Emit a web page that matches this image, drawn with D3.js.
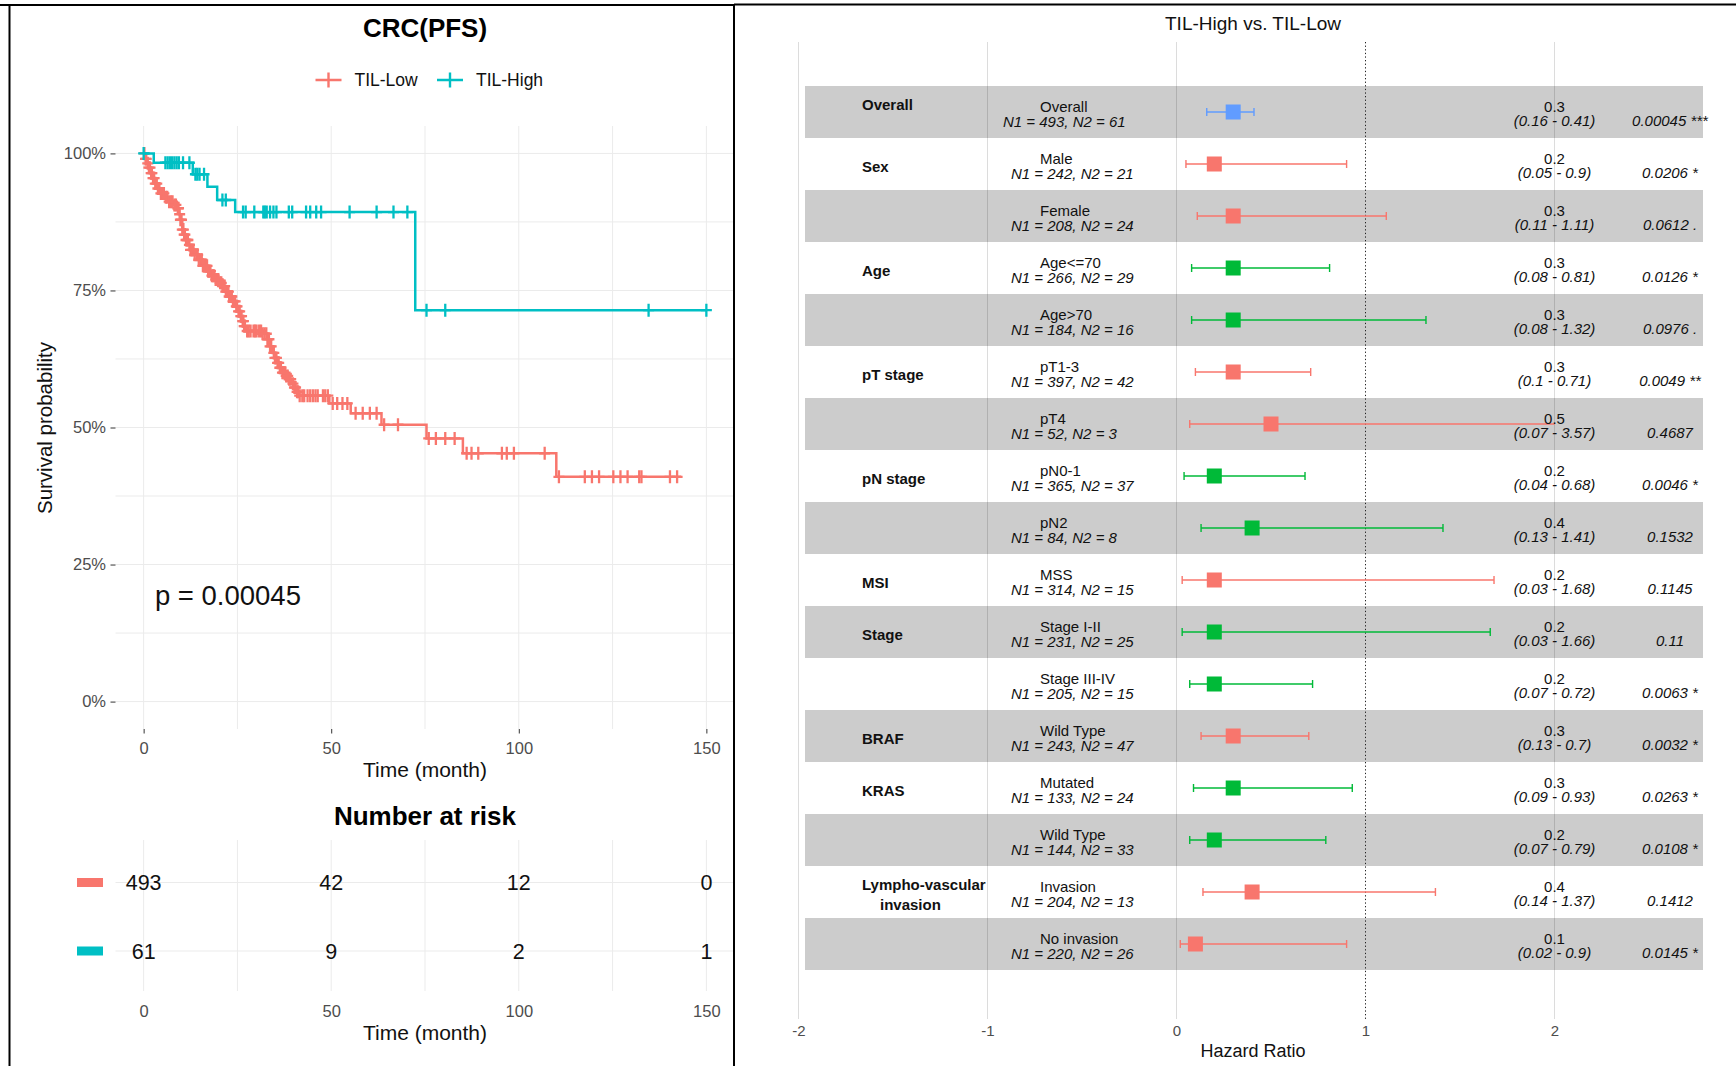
<!DOCTYPE html>
<html>
<head>
<meta charset="utf-8">
<script src="https://cdn.jsdelivr.net/npm/d3@7"></script>
<style>
  body { margin: 0; background: #fff; }
  svg { display: block; }
</style>
</head>
<body>
<script>
// ---------- Kaplan-Meier ----------
const groups = ["TIL-Low", "TIL-High"];
const groupColors = ["#F8766D", "#00BFC4"];

// step changes: time (month) -> survival after the drop
const lowTimes = [0, 0.4, 0.9, 1.4, 1.9, 2.5, 3.1, 3.8, 4.5, 5.5, 6.7, 7.8, 8.9, 9.4, 9.8,
  10.3, 10.8, 11.2, 11.9, 12.5, 13.6, 14.7, 15.8, 17.0, 18.1, 19.2, 20.1, 21.0, 21.9, 22.8,
  23.7, 24.6, 25.3, 25.9, 26.4, 26.8, 27.2, 31.7, 33.0, 33.7, 34.4, 35.0, 35.7, 36.3, 37.0,
  38.0, 38.8, 39.5, 40.2, 40.9, 41.5, 49.5, 55.2, 63.4, 75.4, 85.1, 110.0];
const lowSurv = [1, 0.990, 0.982, 0.974, 0.964, 0.955, 0.945, 0.936, 0.927, 0.920, 0.912, 0.906, 0.900, 0.889, 0.879,
  0.861, 0.852, 0.842, 0.833, 0.824, 0.815, 0.806, 0.795, 0.785, 0.777, 0.770, 0.764, 0.758, 0.748, 0.739,
  0.730, 0.721, 0.712, 0.703, 0.694, 0.685, 0.676, 0.671, 0.661, 0.648, 0.636, 0.627, 0.618, 0.609, 0.600,
  0.594, 0.588, 0.580, 0.573, 0.565, 0.558, 0.544, 0.526, 0.505, 0.480, 0.453, 0.410];
const lowEnd = 143.3;
const lowCensor = [0.2, 0.5, 0.7, 1.1, 1.4, 1.7, 2.0, 2.2, 2.5, 2.8, 3.1, 3.5, 3.8, 4.2, 4.6, 5.0,
  5.4, 5.9, 6.3, 6.8, 7.3, 7.7, 8.2, 8.6, 9.1, 9.3, 9.6, 9.8, 10.1, 10.3, 10.6, 10.8, 11.0, 11.3,
  11.6, 11.8, 12.2, 12.5, 12.9, 13.3, 13.6, 14.1, 14.4, 14.7, 15.2, 15.5, 15.8, 16.2, 16.6, 16.9,
  17.2, 17.5, 17.8, 18.2, 18.5, 18.8, 19.2, 19.6, 19.9, 20.4, 20.7, 21.0, 21.3, 21.6, 21.9, 22.3,
  22.6, 22.8, 23.2, 23.5, 23.8, 24.1, 24.4, 24.7, 24.9, 25.3, 25.6, 25.9, 26.1, 26.4, 26.6, 26.8,
  27.0, 27.6, 28.0, 28.5, 29.3, 29.7, 30.1, 30.8, 31.3, 31.7, 32.2, 32.7, 33.0, 33.4, 33.7, 34.0,
  34.7, 35.0, 35.4, 35.7, 36.0, 36.3, 36.6, 37.0, 37.3, 37.7, 38.0, 38.4, 38.8, 39.2, 39.8, 40.2,
  40.5, 40.9, 41.2, 41.6, 42.3, 42.8, 43.7, 44.4, 45.1, 45.8, 46.4, 47.8, 48.4, 49.1, 50.4, 51.6,
  53.0, 54.3, 56.5, 58.4, 60.3, 62.1, 64.1, 67.8, 76.0, 77.9, 80.4, 82.9, 86.1, 87.4, 89.2, 95.5,
  96.8, 98.7, 106.9, 110.7, 117.6, 119.5, 121.4, 125.2, 127.1, 129.0, 132.1, 132.7, 140.3, 142.2];

const highTimes = [0, 2.7, 13.1, 17.0, 19.6, 24.4, 72.4];
const highSurv = [1, 0.983, 0.962, 0.939, 0.915, 0.893, 0.714];
const highEnd = 150;
const highCensor = [0, 5.8, 6.4, 7.0, 7.6, 8.2, 8.8, 9.4, 10.5, 12.2, 13.8, 14.3, 14.9, 16.1, 21.0,
  21.9, 26.5, 27.2, 29.5, 31.9, 32.3, 32.8, 33.7, 34.6, 35.4, 38.7, 39.6, 43.3, 44.4, 46.0, 47.3,
  54.9, 62.1, 66.6, 70.3, 75.4, 80.4, 134.6, 150];

const timeTicks = [0, 50, 100, 150];
const survTicks = [0, 0.25, 0.5, 0.75, 1];
const pValueText = "p = 0.00045";

const riskLow = [493, 42, 12, 0];
const riskHigh = [61, 9, 2, 1];

// ---------- forest plot ----------
const forestTitle = "TIL-High vs. TIL-Low";
const variables = ["Overall", "Sex", "", "Age", "", "pT stage", "", "pN stage", "", "MSI", "Stage", "",
  "BRAF", "KRAS", "", "Lympho-vascular|invasion", ""];
const levels = ["Overall", "Male", "Female", "Age<=70", "Age>70", "pT1-3", "pT4", "pN0-1", "pN2", "MSS",
  "Stage I-II", "Stage III-IV", "Wild Type", "Mutated", "Wild Type", "Invasion", "No invasion"];
const n1 = [493, 242, 208, 266, 184, 397, 52, 365, 84, 314, 231, 205, 243, 133, 144, 204, 220];
const n2 = [61, 21, 24, 29, 16, 42, 3, 37, 8, 15, 25, 15, 47, 24, 33, 13, 26];
const hr = [0.3, 0.2, 0.3, 0.3, 0.3, 0.3, 0.5, 0.2, 0.4, 0.2, 0.2, 0.2, 0.3, 0.3, 0.2, 0.4, 0.1];
const lower = [0.16, 0.05, 0.11, 0.08, 0.08, 0.1, 0.07, 0.04, 0.13, 0.03, 0.03, 0.07, 0.13, 0.09, 0.07, 0.14, 0.02];
const upper = [0.41, 0.9, 1.11, 0.81, 1.32, 0.71, 3.57, 0.68, 1.41, 1.68, 1.66, 0.72, 0.7, 0.93, 0.79, 1.37, 0.9];
const pvals = [0.00045, 0.0206, 0.0612, 0.0126, 0.0976, 0.0049, 0.4687, 0.0046, 0.1532, 0.1145, 0.11,
  0.0063, 0.0032, 0.0263, 0.0108, 0.1412, 0.0145];
const stars = ["***", "*", ".", "*", ".", "**", "", "*", "", "", "", "*", "*", "*", "*", "", "*"];
const colorGroup = ["overall", "a", "a", "b", "b", "a", "a", "b", "b", "a", "b", "b", "a", "b", "b", "a", "a"];
const forestColors = { overall: "#619CFF", a: "#F8766D", b: "#00BA38" };

// ---------- setup ----------
const W = 1736, H = 1066;
const FONT = '"Liberation Sans", Arial, sans-serif';

const svg = d3.select("body").append("svg")
  .attr("width", W).attr("height", H)
  .attr("viewBox", [0, 0, W, H])
  .attr("font-family", FONT);

svg.append("rect").attr("width", W).attr("height", H).attr("fill", "#fff");

// ================= KM panel =================
const x = d3.scaleLinear().domain([-7.5, 157.5]).range([115.5, 734.5]);
const y = d3.scaleLinear().domain([-0.05, 1.05]).range([729, 126]);
const km = svg.append("g");

const minorT = timeTicks.slice(1).map((t, i) => (t + timeTicks[i]) / 2);
const minorS = survTicks.slice(1).map((s, i) => (s + survTicks[i]) / 2);

// grid
km.append("g").attr("stroke", "#ebebeb").attr("stroke-width", 1)
  .selectAll("line").data(minorT.concat(timeTicks)).join("line")
  .attr("x1", d => x(d)).attr("x2", d => x(d))
  .attr("y1", 126).attr("y2", 729);
km.append("g").attr("stroke", "#ebebeb").attr("stroke-width", 1)
  .selectAll("line").data(minorS.concat(survTicks)).join("line")
  .attr("x1", 115.5).attr("x2", 734.5)
  .attr("y1", d => y(d)).attr("y2", d => y(d));

// axes
km.append("g")
  .attr("transform", "translate(115.5,0)")
  .call(d3.axisLeft(y).tickValues(survTicks).tickFormat(d3.format(".0%")).tickSize(5).tickPadding(4.5))
  .call(g => g.select(".domain").remove())
  .call(g => g.selectAll("line").attr("stroke", "#333"))
  .call(g => g.selectAll("text").attr("fill", "#4d4d4d").attr("font-size", 16.5).attr("font-family", FONT));

km.append("g")
  .attr("transform", "translate(0,729)")
  .call(d3.axisBottom(x).tickValues(timeTicks).tickSize(4.5).tickPadding(9))
  .call(g => g.select(".domain").remove())
  .call(g => g.selectAll("line").attr("stroke", "#333"))
  .call(g => g.selectAll("text").attr("fill", "#4d4d4d").attr("font-size", 16.5).attr("font-family", FONT));

// curves
const stepLine = d3.line().x(d => x(d[0])).y(d => y(d[1])).curve(d3.curveStepAfter);
const curves = [
  { times: lowTimes, surv: lowSurv, end: lowEnd, censor: lowCensor, color: groupColors[0] },
  { times: highTimes, surv: highSurv, end: highEnd, censor: highCensor, color: groupColors[1] }
];
const survAt = (c, t) => c.surv[Math.max(0, d3.bisectRight(c.times, t) - 1)];

const cg = km.append("g").selectAll("g").data(curves).join("g");
cg.append("path")
  .attr("fill", "none")
  .attr("stroke", d => d.color)
  .attr("stroke-width", 2.5)
  .attr("d", d => stepLine(d.times.map((t, i) => [t, d.surv[i]]).concat([[d.end, d.surv[d.surv.length - 1]]])));
cg.each(function (c) {
  d3.select(this).selectAll("path.cens").data(c.censor).join("path")
    .attr("class", "cens")
    .attr("transform", t => `translate(${x(t)},${y(survAt(c, t))})`)
    .attr("d", "M-5.5,0H5.5M0,-6.5V6.5")
    .attr("stroke", c.color)
    .attr("stroke-width", 2.3);
});

// legend
const legendX = [328.5, 450];
const leg = km.append("g").selectAll("g").data(groups).join("g")
  .attr("transform", (d, i) => `translate(${legendX[i]},80)`);
leg.append("path").attr("d", "M-13,0H13M0,-7.5V7.5")
  .attr("stroke", (d, i) => groupColors[i]).attr("stroke-width", 2.4);
leg.append("text").attr("x", 26).attr("dy", "0.35em")
  .attr("font-size", 17.5).attr("fill", "#111").text(d => d);

// titles
km.append("text").attr("x", 425).attr("y", 37).attr("text-anchor", "middle")
  .attr("font-size", 26).attr("font-weight", "bold").text("CRC(PFS)");
km.append("text").attr("transform", "translate(52,428) rotate(-90)").attr("text-anchor", "middle")
  .attr("font-size", 20.5).attr("fill", "#111").text("Survival probability");
km.append("text").attr("x", 425).attr("y", 777).attr("text-anchor", "middle")
  .attr("font-size", 21).attr("fill", "#111").text("Time (month)");
km.append("text").attr("x", x(3)).attr("y", 605)
  .attr("font-size", 27.5).attr("fill", "#111").text(pValueText);

// ================= Number at risk =================
const risk = svg.append("g");
const ry = d3.scalePoint().domain(groups).range([882.5, 951]);
const riskRows = [riskLow, riskHigh];

risk.append("g").attr("stroke", "#ebebeb").attr("stroke-width", 1)
  .selectAll("line").data(minorT.concat(timeTicks)).join("line")
  .attr("x1", d => x(d)).attr("x2", d => x(d)).attr("y1", 840).attr("y2", 991);
risk.append("g").attr("stroke", "#ebebeb").attr("stroke-width", 1)
  .selectAll("line").data(groups).join("line")
  .attr("x1", 115.5).attr("x2", 734.5).attr("y1", d => ry(d)).attr("y2", d => ry(d));

risk.append("g").selectAll("rect").data(groups).join("rect")
  .attr("x", 77).attr("width", 26)
  .attr("y", d => ry(d) - 4.5).attr("height", 9)
  .attr("fill", (d, i) => groupColors[i]);

risk.append("g").selectAll("g").data(groups).join("g")
  .each(function (gname, gi) {
    d3.select(this).selectAll("text").data(riskRows[gi]).join("text")
      .attr("x", (d, i) => x(timeTicks[i]))
      .attr("y", ry(gname))
      .attr("dy", "0.36em")
      .attr("text-anchor", "middle")
      .attr("font-size", 21.5)
      .attr("fill", "#111")
      .text(d => d);
  });

risk.append("g")
  .attr("transform", "translate(0,991)")
  .call(d3.axisBottom(x).tickValues(timeTicks).tickSize(0).tickPadding(14))
  .call(g => g.select(".domain").remove())
  .call(g => g.selectAll("text").attr("fill", "#4d4d4d").attr("font-size", 16.5).attr("font-family", FONT));

risk.append("text").attr("x", 425).attr("y", 825).attr("text-anchor", "middle")
  .attr("font-size", 26).attr("font-weight", "bold").text("Number at risk");
risk.append("text").attr("x", 425).attr("y", 1040).attr("text-anchor", "middle")
  .attr("font-size", 21).attr("fill", "#111").text("Time (month)");

// ================= Forest plot =================
const forest = svg.append("g");
const fx = d3.scaleLinear().domain([-2, 2]).range([798.5, 1554.5]);
const fy = d3.scaleBand().domain(d3.range(levels.length)).range([86, 970]);
const rows = d3.range(levels.length);

forest.append("g").attr("stroke", "#dcdcdc").attr("stroke-width", 1)
  .selectAll("line").data(fx.ticks(4).filter(d => d !== 1)).join("line")
  .attr("x1", d => fx(d)).attr("x2", d => fx(d)).attr("y1", 42).attr("y2", 1019);

forest.append("g").selectAll("rect").data(rows.filter(i => i % 2 === 0)).join("rect")
  .attr("x", 805).attr("width", 898)
  .attr("y", i => fy(i)).attr("height", fy.bandwidth())
  .attr("fill", "#000").attr("fill-opacity", 0.2);

forest.append("line")
  .attr("x1", fx(1)).attr("x2", fx(1)).attr("y1", 42).attr("y2", 1019)
  .attr("stroke", "#222").attr("stroke-width", 1).attr("stroke-dasharray", "1.3,2.3");

const row = forest.append("g").selectAll("g").data(rows).join("g")
  .attr("transform", i => `translate(0,${fy(i)})`);

const mid = fy.bandwidth() / 2;
const xMax = fx.domain()[1];
row.append("line")
  .attr("x1", i => fx(lower[i])).attr("x2", i => fx(Math.min(upper[i], xMax)))
  .attr("y1", mid).attr("y2", mid)
  .attr("stroke", i => forestColors[colorGroup[i]]).attr("stroke-width", 1.4);
row.append("path")
  .attr("d", i => `M${fx(lower[i])},${mid - 4}V${mid + 4}` +
    (upper[i] <= xMax ? `M${fx(upper[i])},${mid - 4}V${mid + 4}` : ""))
  .attr("stroke", i => forestColors[colorGroup[i]]).attr("stroke-width", 1.4);
row.append("rect")
  .attr("x", i => fx(hr[i]) - 7.5).attr("y", mid - 7.5)
  .attr("width", 15).attr("height", 15)
  .attr("fill", i => forestColors[colorGroup[i]]);

// variable labels
row.filter(i => variables[i] !== "").append("text")
  .attr("font-size", 15).attr("font-weight", "bold").attr("fill", "#111")
  .each(function (i) {
    const parts = variables[i].split("|");
    const t = d3.select(this);
    if (parts.length === 1) {
      t.append("tspan").attr("x", 862).attr("y", i === 0 ? 24 : 33.5).text(parts[0]);
    } else {
      t.append("tspan").attr("x", 862).attr("y", 24).text(parts[0]);
      t.append("tspan").attr("x", 880).attr("y", 44).text(parts[1]);
    }
  });

// level + counts
row.append("text").attr("x", 1040).attr("y", 26)
  .attr("font-size", 15).attr("fill", "#111").text(i => levels[i]);
row.append("text").attr("x", i => (i === 0 ? 1003 : 1011)).attr("y", 41)
  .attr("font-size", 15).attr("font-style", "italic").attr("fill", "#111")
  .text(i => `N1 = ${n1[i]}, N2 = ${n2[i]}`);

// estimate / ci / p
row.append("text").attr("x", fx(2)).attr("y", 26).attr("text-anchor", "middle")
  .attr("font-size", 15).attr("fill", "#111").text(i => String(hr[i]));
row.append("text").attr("x", fx(2)).attr("y", 40).attr("text-anchor", "middle")
  .attr("font-size", 15).attr("font-style", "italic").attr("fill", "#111")
  .text(i => `(${lower[i]} - ${upper[i]})`);
row.append("text").attr("x", 1670).attr("y", 40).attr("text-anchor", "middle")
  .attr("font-size", 15).attr("font-style", "italic").attr("fill", "#111")
  .text(i => `${pvals[i]} ${stars[i]}`.trim());

// forest axis
forest.append("g")
  .attr("transform", "translate(0,1019)")
  .call(d3.axisBottom(fx).ticks(4).tickFormat(d => String(d)).tickSize(0).tickPadding(6))
  .call(g => g.select(".domain").remove())
  .call(g => g.selectAll("text").attr("fill", "#4d4d4d").attr("font-size", 15).attr("font-family", FONT));

forest.append("text").attr("x", 1253).attr("y", 30).attr("text-anchor", "middle")
  .attr("font-size", 19).attr("fill", "#111").text(forestTitle);
forest.append("text").attr("x", 1253).attr("y", 1057).attr("text-anchor", "middle")
  .attr("font-size", 18).attr("fill", "#111").text("Hazard Ratio");

// ================= frames =================
svg.append("path")
  .attr("d", "M0,5H734M9.5,5V1066M734,4V1066M734,4.5H1736")
  .attr("fill", "none").attr("stroke", "#000").attr("stroke-width", 2);
</script>
</body>
</html>
